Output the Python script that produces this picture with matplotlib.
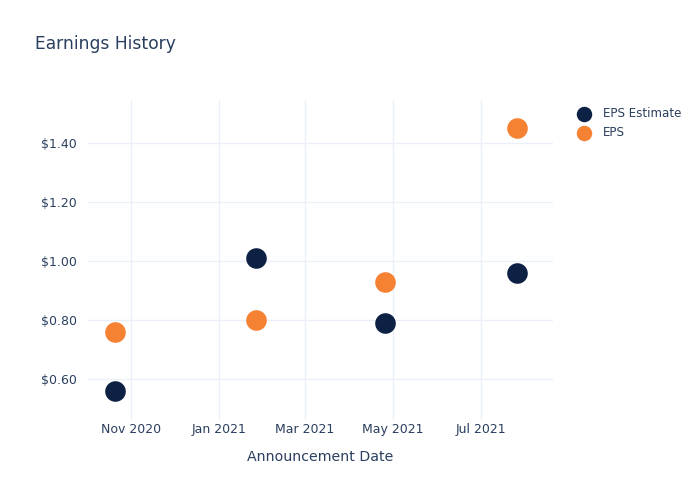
import numpy as np
import matplotlib
matplotlib.use("Agg")
import matplotlib.pyplot as plt
import matplotlib.dates as mdates
from datetime import datetime

# data
dates = ["2020-10-21", "2021-01-26", "2021-04-26", "2021-07-26"]
eps_estimate = [0.56, 1.01, 0.79, 0.96]
eps_actual = [0.76, 0.80, 0.93, 1.45]
tick_dates = ["2020-11-01", "2021-01-01", "2021-03-01", "2021-05-01", "2021-07-01"]
tick_labels = ["Nov 2020", "Jan 2021", "Mar 2021", "May 2021", "Jul 2021"]
y_ticks = [0.6, 0.8, 1.0, 1.2, 1.4]

txt = "#2a3f5f"
grid = "#ebf0f8"

x = [datetime.strptime(d, "%Y-%m-%d") for d in dates]
xt = [datetime.strptime(d, "%Y-%m-%d") for d in tick_dates]

fig = plt.figure(figsize=(7, 5), dpi=100)
ax = fig.add_axes([88/700, 80/500, 465/700, 320/500])

ax.scatter(x, eps_estimate, s=220, color="#0d2145", label="EPS Estimate", zorder=3, linewidths=0)
ax.scatter(x, eps_actual, s=220, color="#f58233", label="EPS", zorder=3, linewidths=0)

ax.set_xlim(datetime(2020, 10, 2), datetime(2021, 8, 20))
ax.set_ylim(0.461, 1.546)
ax.set_xticks(xt)
ax.set_xticklabels(tick_labels)
ax.set_yticks(y_ticks)
ax.set_yticklabels(["$%.2f" % v for v in y_ticks])
ax.grid(True, color=grid, linewidth=1)
ax.set_axisbelow(True)
for s in ax.spines.values():
    s.set_visible(False)
ax.tick_params(axis="y", length=0, colors=txt, labelsize=9, pad=8)
ax.tick_params(axis="x", length=0, colors=txt, labelsize=9, pad=2)
ax.set_xlabel("Announcement Date", color=txt, fontsize=10.2, labelpad=10)

fig.text(35/700, 1 - 44/500, "Earnings History", color=txt, fontsize=12.3, va="center")

leg = ax.legend(loc="upper left", bbox_to_anchor=(1.023, 1.003), frameon=False,
                fontsize=8.6, labelcolor=txt, handletextpad=0.6, borderaxespad=0.3,
                labelspacing=0.45, markerscale=0.75)

fig.savefig("out.png", dpi=100)
